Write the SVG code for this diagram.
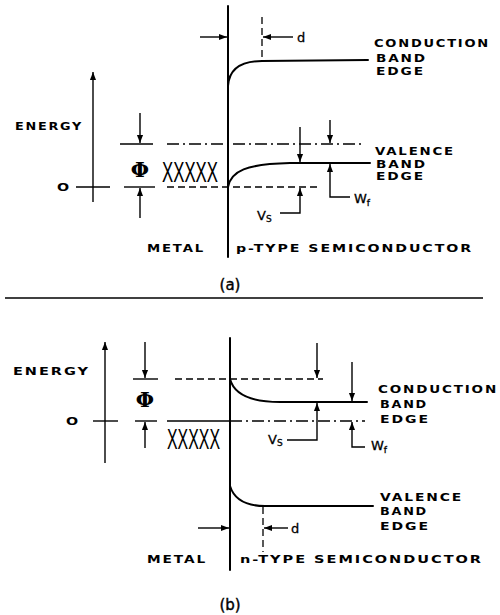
<svg xmlns="http://www.w3.org/2000/svg" width="500" height="615" viewBox="0 0 500 615">
<style>
  .bg{fill:#fff}
  .thick{stroke:#000;stroke-width:2;fill:none;stroke-linecap:round}
  .ln{stroke:#000;stroke-width:1.4;fill:none}
  .arr{stroke:#000;stroke-width:1.4;fill:none;marker-end:url(#ah)}
  .dash{stroke:#000;stroke-width:1.3;fill:none;stroke-dasharray:7,4}
  .dd{stroke:#000;stroke-width:1.3;fill:none;stroke-dasharray:12,4,2,4}
  .lbl{font-family:"DejaVu Sans","Liberation Sans",Arial,sans-serif;font-weight:bold;font-size:11px;letter-spacing:1.5px;fill:#000}
  .cap{font-family:"DejaVu Sans","Liberation Sans",Arial,sans-serif;font-size:15px;fill:#000;stroke:#000;stroke-width:0.4}
  .zero{font-family:"DejaVu Sans","Liberation Sans",Arial,sans-serif;font-weight:bold;font-size:11px;fill:#000}
  .phi{font-family:"DejaVu Serif","Liberation Serif",serif;font-weight:bold;font-size:21px;fill:#000;text-anchor:middle}
  .xx{font-family:"Liberation Sans",Arial,sans-serif;font-size:30px;fill:#000}
  .sym{font-family:"DejaVu Sans","Liberation Sans",Arial,sans-serif;font-size:13px;fill:#000;stroke:#000;stroke-width:0.3}
  .sub{font-size:9px}
</style>
<defs>
  <marker id="ah" viewBox="0 0 10 10" refX="10" refY="5" markerWidth="8" markerHeight="8" orient="auto" markerUnits="userSpaceOnUse">
    <path d="M0,1.2 L10,5 L0,8.8 z" fill="#000"/>
  </marker>
</defs>
<rect class="bg" x="0" y="0" width="500" height="615"/>

<!-- ===== Panel (a) ===== -->
<g id="a-axis">
  <line class="arr" x1="93" y1="202" x2="93" y2="72"/>
  <text class="lbl" x="15" y="130" textLength="68" lengthAdjust="spacingAndGlyphs">ENERGY</text>
  <text class="zero" x="63" y="191" text-anchor="middle" transform="translate(63 0) scale(1.3 1) translate(-63 0)">O</text>
</g>
<g id="a-interface">
  <line class="thick" x1="228" y1="6" x2="228" y2="257"/>
</g>
<g id="a-levels">
  <line class="ln" x1="120" y1="144" x2="153" y2="144"/>
  <line class="dd" x1="167" y1="144" x2="363" y2="144"/>
  <line class="ln" x1="76" y1="187" x2="110" y2="187"/>
  <line class="ln" x1="124" y1="187" x2="155" y2="187"/>
  <line class="dash" x1="167" y1="187" x2="320" y2="187"/>
</g>
<g id="a-conduction">
  <path class="thick" d="M228,86 C229,70 240,61 262,61 L368,60"/>
  <text class="lbl" x="374" y="47" textLength="116" lengthAdjust="spacingAndGlyphs">CONDUCTION</text>
  <text class="lbl" x="376" y="62" textLength="51" lengthAdjust="spacingAndGlyphs">BAND</text>
  <text class="lbl" x="376" y="75" textLength="49" lengthAdjust="spacingAndGlyphs">EDGE</text>
</g>
<g id="a-valence">
  <path class="thick" d="M228,187 C231,171 246,164 290,163 L370,163"/>
  <text class="lbl" x="375" y="155" textLength="80" lengthAdjust="spacingAndGlyphs">VALENCE</text>
  <text class="lbl" x="376" y="168" textLength="51" lengthAdjust="spacingAndGlyphs">BAND</text>
  <text class="lbl" x="376" y="180" textLength="49" lengthAdjust="spacingAndGlyphs">EDGE</text>
</g>
<g id="a-phi">
  <text class="phi" x="140" y="177">Φ</text>
  <text class="xx" x="162" y="182" textLength="56" lengthAdjust="spacingAndGlyphs">XXXXX</text>
</g>
<g id="a-d">
  <line class="dash" x1="262" y1="17" x2="262" y2="60"/>
  <text class="sym" x="297" y="42">d</text>
</g>
<g id="a-vs">
  <text class="sym" x="257" y="220">V<tspan class="sub" dy="2">S</tspan></text>
</g>
<g id="a-wf">
  <text class="sym" x="354" y="203">W<tspan class="sub" dy="3">f</tspan></text>
</g>
<g id="a-labels">
  <text class="lbl" x="147" y="252" textLength="58" lengthAdjust="spacingAndGlyphs">METAL</text>
  <text class="lbl" x="236" y="252" textLength="237" lengthAdjust="spacingAndGlyphs">p-TYPE SEMICONDUCTOR</text>
  <text class="cap" x="230" y="290" text-anchor="middle">(a)</text>
</g>

<line id="separator" class="ln" x1="5" y1="298" x2="483" y2="298" stroke-width="1.6"/>

<!-- ===== Panel (b) ===== -->
<g id="b-axis">
  <line class="arr" x1="105" y1="463" x2="105" y2="342"/>
  <text class="lbl" x="13" y="375" textLength="77" lengthAdjust="spacingAndGlyphs">ENERGY</text>
  <text class="zero" x="72" y="425" text-anchor="middle" transform="translate(72 0) scale(1.3 1) translate(-72 0)">O</text>
</g>
<g id="b-interface">
  <line class="thick" x1="230" y1="338" x2="230" y2="570"/>
</g>
<g id="b-levels">
  <line class="ln" x1="133" y1="379" x2="158" y2="379"/>
  <line class="dash" x1="175" y1="379" x2="323" y2="379"/>
  <line class="ln" x1="93" y1="421" x2="118" y2="421"/>
  <line class="ln" x1="135" y1="421" x2="157" y2="421"/>
  <line class="ln" x1="167" y1="421" x2="230" y2="421"/>
  <line class="dd" x1="230" y1="421" x2="365" y2="421"/>
</g>
<g id="b-conduction">
  <path class="thick" d="M230,379 C234,394 250,402 280,402 L367,402"/>
  <text class="lbl" x="378" y="393" textLength="120" lengthAdjust="spacingAndGlyphs">CONDUCTION</text>
  <text class="lbl" x="380" y="408" textLength="48" lengthAdjust="spacingAndGlyphs">BAND</text>
  <text class="lbl" x="380" y="423" textLength="50" lengthAdjust="spacingAndGlyphs">EDGE</text>
</g>
<g id="b-valence">
  <path class="thick" d="M230,486 C234,499 246,506 265,506 L373,506"/>
  <text class="lbl" x="380" y="501" textLength="83" lengthAdjust="spacingAndGlyphs">VALENCE</text>
  <text class="lbl" x="380" y="515" textLength="48" lengthAdjust="spacingAndGlyphs">BAND</text>
  <text class="lbl" x="380" y="530" textLength="50" lengthAdjust="spacingAndGlyphs">EDGE</text>
</g>
<g id="b-phi">
  <text class="phi" x="145" y="407">Φ</text>
  <text class="xx" x="167" y="449" textLength="53" lengthAdjust="spacingAndGlyphs">XXXXX</text>
</g>
<g id="b-d">
  <line class="dash" x1="263" y1="507" x2="263" y2="552"/>
  <text class="sym" x="291" y="533">d</text>
</g>
<g id="b-vs">
  <text class="sym" x="268" y="444">V<tspan class="sub" dy="2">S</tspan></text>
</g>
<g id="b-wf">
  <text class="sym" x="371" y="450">W<tspan class="sub" dy="3">f</tspan></text>
</g>
<g id="b-labels">
  <text class="lbl" x="147" y="563" textLength="60" lengthAdjust="spacingAndGlyphs">METAL</text>
  <text class="lbl" x="240" y="563" textLength="243" lengthAdjust="spacingAndGlyphs">n-TYPE SEMICONDUCTOR</text>
  <text class="cap" x="230" y="610" text-anchor="middle">(b)</text>
</g>

<!-- ===== Connectors (dimension arrows) ===== -->
<g id="connectors">
  <!-- (a) -->
  <line class="arr" x1="200" y1="37" x2="227" y2="37"/>
  <line class="arr" x1="293" y1="37" x2="263" y2="37"/>
  <line class="arr" x1="140" y1="113" x2="140" y2="143"/>
  <line class="arr" x1="140" y1="218" x2="140" y2="188"/>
  <line class="arr" x1="300" y1="127" x2="300" y2="162"/>
  <line class="arr" x1="330" y1="120" x2="330" y2="143"/>
  <polyline class="arr" points="350,197 330,197 330,164"/>
  <polyline class="arr" points="280,213 300,213 300,188"/>
  <!-- (b) -->
  <line class="arr" x1="145" y1="342" x2="145" y2="378"/>
  <line class="arr" x1="145" y1="448" x2="145" y2="422"/>
  <line class="arr" x1="317" y1="343" x2="317" y2="378"/>
  <line class="arr" x1="352" y1="362" x2="352" y2="401"/>
  <polyline class="arr" points="287,440 317,440 317,403"/>
  <polyline class="arr" points="365,447 352,447 352,422"/>
  <line class="arr" x1="288" y1="528" x2="264" y2="528"/>
  <line class="arr" x1="198" y1="528" x2="229" y2="528"/>
</g>
</svg>
